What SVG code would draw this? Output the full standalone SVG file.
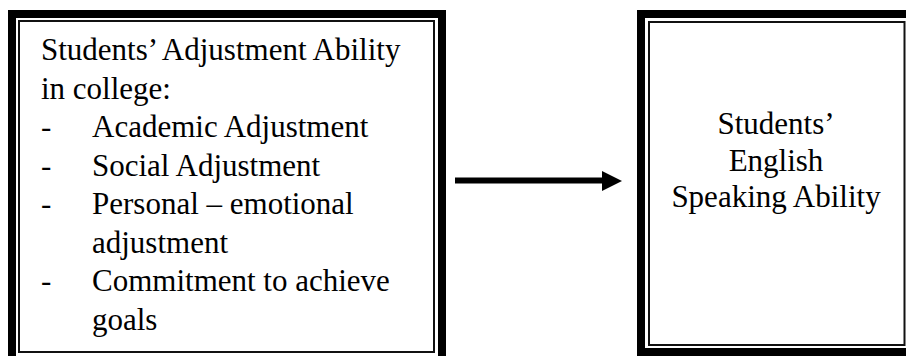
<svg xmlns="http://www.w3.org/2000/svg" width="906" height="356" viewBox="0 0 906 356">
<style>
.thick{fill:none;stroke:#000;stroke-width:8}
.thin{fill:none;stroke:#111;stroke-width:2}
text{font-family:"Liberation Serif","Times New Roman",serif;font-size:31px;fill:#000}
</style>
<rect width="906" height="356" fill="#fff"/>
<g id="node-adjustment">
<rect class="thick" x="12" y="14" width="430" height="348"/>
<rect class="thin" x="19" y="21" width="415" height="331"/>
<text x="41" y="60">Students’ Adjustment Ability</text>
<text x="41" y="98.5">in college:</text>
<text x="41" y="137">-</text><text x="92" y="137">Academic Adjustment</text>
<text x="41" y="175.5">-</text><text x="92" y="175.5">Social Adjustment</text>
<text x="41" y="214">-</text><text x="92" y="214">Personal – emotional</text>
<text x="92" y="252.5">adjustment</text>
<text x="41" y="291">-</text><text x="92" y="291">Commitment to achieve</text>
<text x="92" y="329.5">goals</text>
</g>
<g id="node-speaking">
<rect class="thick" x="641" y="14" width="273" height="338"/>
<rect class="thin" x="649" y="22" width="255.5" height="323"/>
<text x="776" y="134" text-anchor="middle">Students’</text>
<text x="776" y="170.5" text-anchor="middle">English</text>
<text x="776" y="207" text-anchor="middle">Speaking Ability</text>
</g>
<g id="connectors">
<line x1="455" y1="180.5" x2="604" y2="180.5" stroke="#000" stroke-width="6"/>
<polygon points="602,171 622,181 602,191" fill="#000"/>
</g>
</svg>
